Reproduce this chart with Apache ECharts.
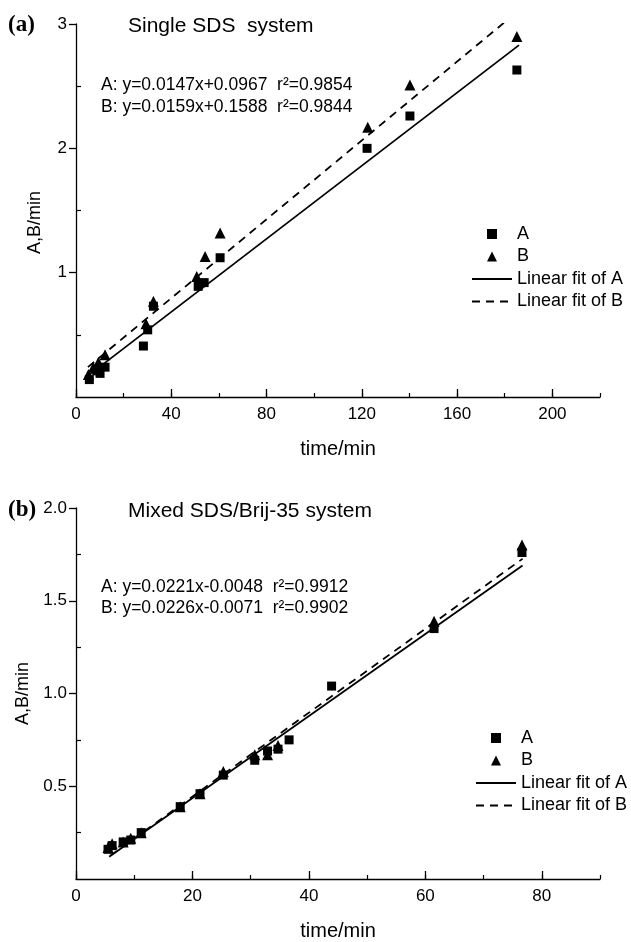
<!DOCTYPE html>
<html>
<head>
<meta charset="utf-8">
<script src="https://cdn.jsdelivr.net/npm/echarts@6/dist/echarts.min.js"></script>
<style>
  html, body { margin: 0; padding: 0; background: #fff; }
  #chart { width: 631px; height: 942px; }
</style>
</head>
<body>
<div id="chart"></div>
<script>
// (a) single SDS system
var topAx = [5.6, 8.7, 10.1, 12.2, 28.3, 30.1, 32.5, 51.3, 53.8, 60.5, 122.2, 140.2, 185.1];
var topAy = [0.14, 0.21, 0.19, 0.24, 0.41, 0.54, 0.73, 0.89, 0.92, 1.12, 2.00, 2.26, 2.63];
var topBx = [5.2, 7.3, 9.4, 12.2, 29.4, 32.5, 50.7, 54.2, 60.5, 122.5, 140.2, 185.1];
var topBy = [0.18, 0.24, 0.28, 0.34, 0.59, 0.77, 0.97, 1.13, 1.32, 2.17, 2.51, 2.90];
var topFitAx = [5, 186];
var topFitAy = [0.17, 2.83];
var topFitBx = [5, 186];
var topFitBy = [0.24, 3.11];
var topXLabels = [0, 40, 80, 120, 160, 200];
var topYLabels = [1, 2, 3];
var topYMinor = [0.5, 1.5, 2.5];

// (b) mixed SDS/Brij-35 system
var botAx = [5.5, 6.2, 8.1, 9.4, 11.2, 17.9, 21.3, 25.3, 30.7, 32.9, 34.7, 36.6, 43.9, 61.5, 76.6];
var botAy = [0.16, 0.18, 0.20, 0.21, 0.25, 0.39, 0.46, 0.56, 0.64, 0.69, 0.70, 0.75, 1.04, 1.35, 1.76];
var botBx = [5.5, 6.2, 8.1, 9.4, 11.2, 17.9, 21.3, 25.3, 30.7, 32.9, 34.7, 61.5, 76.6];
var botBy = [0.17, 0.19, 0.20, 0.22, 0.25, 0.39, 0.46, 0.58, 0.67, 0.67, 0.72, 1.39, 1.80];
var botFitAx = [5.7, 76.7];
var botFitAy = [0.12, 1.69];
var botFitBx = [5.9, 76.7];
var botFitBy = [0.126, 1.726];
var botXLabels = [0, 20, 40, 60, 80];
var botYLabels = [0.5, 1.0, 1.5, 2.0];
var botYMinor = [0.25, 0.75, 1.25, 1.75];

var ink = '#000';
var sans = 'Liberation Sans, Arial, sans-serif';
var squareIcon = 'path://M0,0L10,0L10,10L0,10Z';
var triIcon = 'path://M5,0L10,10L0,10Z';

function pairs(xs, ys) {
  return xs.map(function (x, i) { return [x, ys[i]]; });
}

function mainX(grid, max, step, labels) {
  return {
    gridIndex: grid, type: 'value', min: 0, max: max, interval: step, position: 'bottom',
    name: 'time/min', nameLocation: 'middle', nameGap: 42,
    nameTextStyle: { fontSize: 20, color: ink },
    axisLine: { lineStyle: { color: ink, width: 1.3 } },
    axisTick: { inside: true, length: 8, customValues: labels, lineStyle: { color: ink, width: 1.3 } },
    axisLabel: { customValues: labels, margin: 9, fontSize: 17, color: ink },
    splitLine: { show: false }
  };
}
function minorX(grid, max, step) {
  return {
    gridIndex: grid, type: 'value', min: 0, max: max, interval: step, position: 'bottom',
    axisLine: { show: false },
    axisTick: { inside: true, length: 4, lineStyle: { color: ink, width: 1.2 } },
    axisLabel: { show: false },
    splitLine: { show: false }
  };
}
function mainY(grid, max, labels, fmt, namePad) {
  return {
    gridIndex: grid, type: 'value', min: 0, max: max, position: 'left',
    name: 'A,B/min', nameLocation: 'middle', nameGap: 32, nameRotate: 90,
    nameTextStyle: { fontSize: 18, color: ink, padding: namePad },
    axisLine: { lineStyle: { color: ink, width: 1.3 } },
    axisTick: { inside: false, length: 7, customValues: labels, lineStyle: { color: ink, width: 1.3 } },
    axisLabel: { customValues: labels, margin: 9, fontSize: 17, color: ink, formatter: fmt },
    splitLine: { show: false }
  };
}
function minorY(grid, max, minor) {
  return {
    gridIndex: grid, type: 'value', min: 0, max: max, position: 'left',
    axisLine: { show: false },
    axisTick: { inside: true, length: 5, customValues: minor, lineStyle: { color: ink, width: 1.2 } },
    axisLabel: { show: false },
    splitLine: { show: false }
  };
}

function pointSeries(name, sym, size, xi, yi, xs, ys) {
  return {
    name: name, type: 'scatter', xAxisIndex: xi, yAxisIndex: yi,
    symbol: sym, symbolSize: size,
    itemStyle: { color: ink, opacity: 1 },
    data: pairs(xs, ys)
  };
}
function fitSeries(name, dash, xi, yi, xs, ys) {
  return {
    name: name, type: 'line', xAxisIndex: xi, yAxisIndex: yi,
    symbol: 'none',
    itemStyle: { color: ink },
    lineStyle: { color: ink, width: 1.8, type: dash ? [8, 6] : 'solid' },
    data: pairs(xs, ys)
  };
}

function legendAt(left, top) {
  return {
    orient: 'vertical', left: left, top: top,
    itemWidth: 40, itemHeight: 10, itemGap: 4.5,
    textStyle: { fontSize: 18, color: ink, lineHeight: 18 },
    data: [
      { name: 'A', icon: squareIcon },
      { name: 'B', icon: triIcon },
      { name: 'Linear fit of A', itemStyle: { opacity: 0 } },
      { name: 'Linear fit of B', itemStyle: { opacity: 0 } }
    ]
  };
}

function label(text, left, top, size, extra) {
  var style = { fontSize: size, fontWeight: 'normal', color: ink, fontFamily: sans };
  if (extra) { for (var k in extra) style[k] = extra[k]; }
  return { text: text, left: left, top: top, padding: 0, textStyle: style };
}

var chart = echarts.init(document.getElementById('chart'));

var option = {
  animation: false,
  backgroundColor: '#fff',
  textStyle: { fontFamily: sans },
  title: [
    label('(a)', 8, 14, 23, { fontFamily: 'Liberation Serif, Times New Roman, serif', fontWeight: 'bold' }),
    label('Single SDS  system', 128, 16, 21),
    label('A: y=0.0147x+0.0967  r\u00b2=0.9854', 101, 76, 17.5),
    label('B: y=0.0159x+0.1588  r\u00b2=0.9844', 101, 98, 17.5),
    label('(b)', 8, 499, 23, { fontFamily: 'Liberation Serif, Times New Roman, serif', fontWeight: 'bold' }),
    label('Mixed SDS/Brij-35 system', 128, 501, 21),
    label('A: y=0.0221x-0.0048  r\u00b2=0.9912', 101, 578, 17.5),
    label('B: y=0.0226x-0.0071  r\u00b2=0.9902', 101, 599, 17.5)
  ],
  legend: [legendAt(466, 220), legendAt(470, 724)],
  grid: [
    { left: 76, right: 31, top: 24, height: 373 },
    { left: 76, right: 31, top: 508, height: 373 }
  ],
  xAxis: [
    mainX(0, 220, 20, topXLabels),
    minorX(0, 220, 20),
    mainX(1, 90, 10, botXLabels),
    minorX(1, 90, 10)
  ],
  yAxis: [
    mainY(0, 3, topYLabels, function (v) { return String(v); }, [0, 24, 0, 0]),
    minorY(0, 3, topYMinor),
    mainY(1, 2, botYLabels, function (v) { return v.toFixed(1); }, 0),
    minorY(1, 2, botYMinor)
  ],
  series: [
    pointSeries('A', 'rect', 9, 0, 0, topAx, topAy),
    pointSeries('B', 'triangle', 11, 0, 0, topBx, topBy),
    fitSeries('Linear fit of A', false, 0, 0, topFitAx, topFitAy),
    fitSeries('Linear fit of B', true, 0, 0, topFitBx, topFitBy),
    pointSeries('A', 'rect', 9, 2, 2, botAx, botAy),
    pointSeries('B', 'triangle', 11, 2, 2, botBx, botBy),
    fitSeries('Linear fit of A', false, 2, 2, botFitAx, botFitAy),
    fitSeries('Linear fit of B', true, 2, 2, botFitBx, botFitBy)
  ]
};

chart.setOption(option);

window.addEventListener('resize', function () {
  chart.resize();
});
</script>
</body>
</html>
